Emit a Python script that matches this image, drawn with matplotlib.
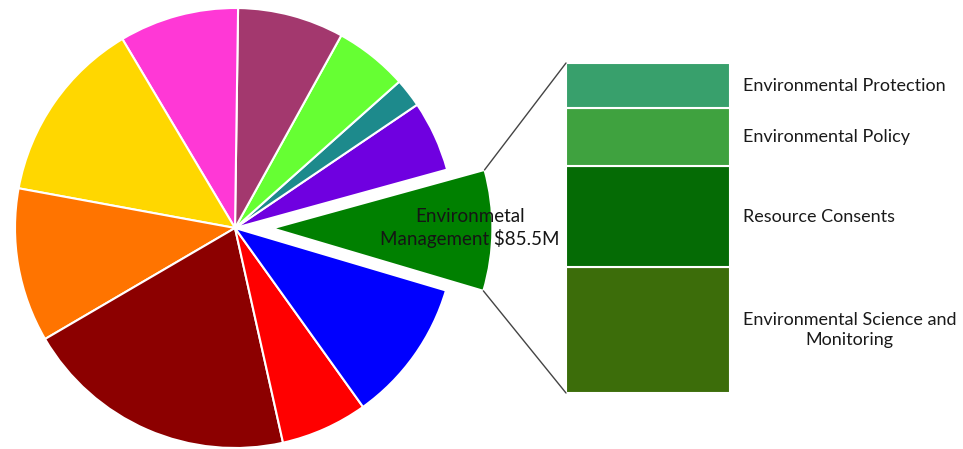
import numpy as np
import matplotlib
matplotlib.use('Agg')
import matplotlib.pyplot as plt
from matplotlib.patches import ConnectionPatch

# Budget split ($M), counter-clockwise starting with Environmental Management
pie_values = [85.5, 50.1, 20.4, 52.0, 75.3, 84.7, 130.8, 109.1, 193.8, 61.6, 101.6]
pie_colors = ['#008000', '#6f00e0', '#1d8a8c', '#66ff33', '#a3386e', '#ff38d6',
              '#ffd700', '#ff7400', '#8c0000', '#ff0000', '#0000ff']
pie_explode = [0.17] + [0] * 10
pie_label = 'Environmetal\nManagement $85.5M'

# Breakdown of Environmental Management ($M), bottom to top
sub_names = ['Environmental Science and\nMonitoring', 'Resource Consents',
             'Environmental Policy', 'Environmental Protection']
sub_values = [32.6, 26.1, 15.1, 11.7]
sub_colors = ['#3c6d0a', '#056b05', '#3fa23f', '#38a06c']

W, H = 963, 449
fig = plt.figure(figsize=(W / 100, H / 100), dpi=100)
plt.rcParams['font.family'] = ['Lato', 'DejaVu Sans']

# pie axes spans the whole figure, 1 unit = 220 px, centre at (235, 228) px
cx, cy, rpx = 235, 228, 220
ax = fig.add_axes([0, 0, 1, 1])
wedges, _ = ax.pie(pie_values, colors=pie_colors, explode=pie_explode,
                   startangle=-16.5, counterclock=True, radius=1,
                   wedgeprops=dict(edgecolor='white', linewidth=1.5))
ax.set_xlim(-cx / rpx, (W - cx) / rpx)
ax.set_ylim(-(H - cy) / rpx, cy / rpx)
ax.set_aspect('auto')
ax.axis('off')
ax.text(1.068, 0.0, pie_label, ha='center', va='center', multialignment='center',
        fontsize=13.5, color='#151515', linespacing=1.2)

# stacked bar
bx0, bx1, by0, by1 = 566, 730, 63, 393
axb = fig.add_axes([bx0 / W, (H - by1) / H, (bx1 - bx0) / W, (by1 - by0) / H])
bottom = 0
for name, val, col in zip(sub_names, sub_values, sub_colors):
    axb.bar(0, val, width=1, bottom=bottom, color=col, edgecolor='white', linewidth=1.5)
    axb.text(1.079, bottom + val / 2, name, transform=axb.get_yaxis_transform(),
             ha='left', va='center', multialignment='center', fontsize=13,
             color='#1a1a1a', linespacing=1.35)
    bottom += val
axb.set_xlim(-0.5, 0.5)
axb.set_ylim(0, sum(sub_values))
axb.axis('off')

# connector lines from the exploded wedge to the bar
w = wedges[0]
for theta, ybar in [(w.theta2, sum(sub_values)), (w.theta1, 0)]:
    x = w.center[0] + w.r * np.cos(np.radians(theta))
    y = w.center[1] + w.r * np.sin(np.radians(theta))
    con = ConnectionPatch(xyA=(-0.5, ybar), coordsA=axb.transData,
                          xyB=(x, y), coordsB=ax.transData,
                          color='#444444', linewidth=1)
    fig.add_artist(con)

fig.savefig('out.png', dpi=100)
